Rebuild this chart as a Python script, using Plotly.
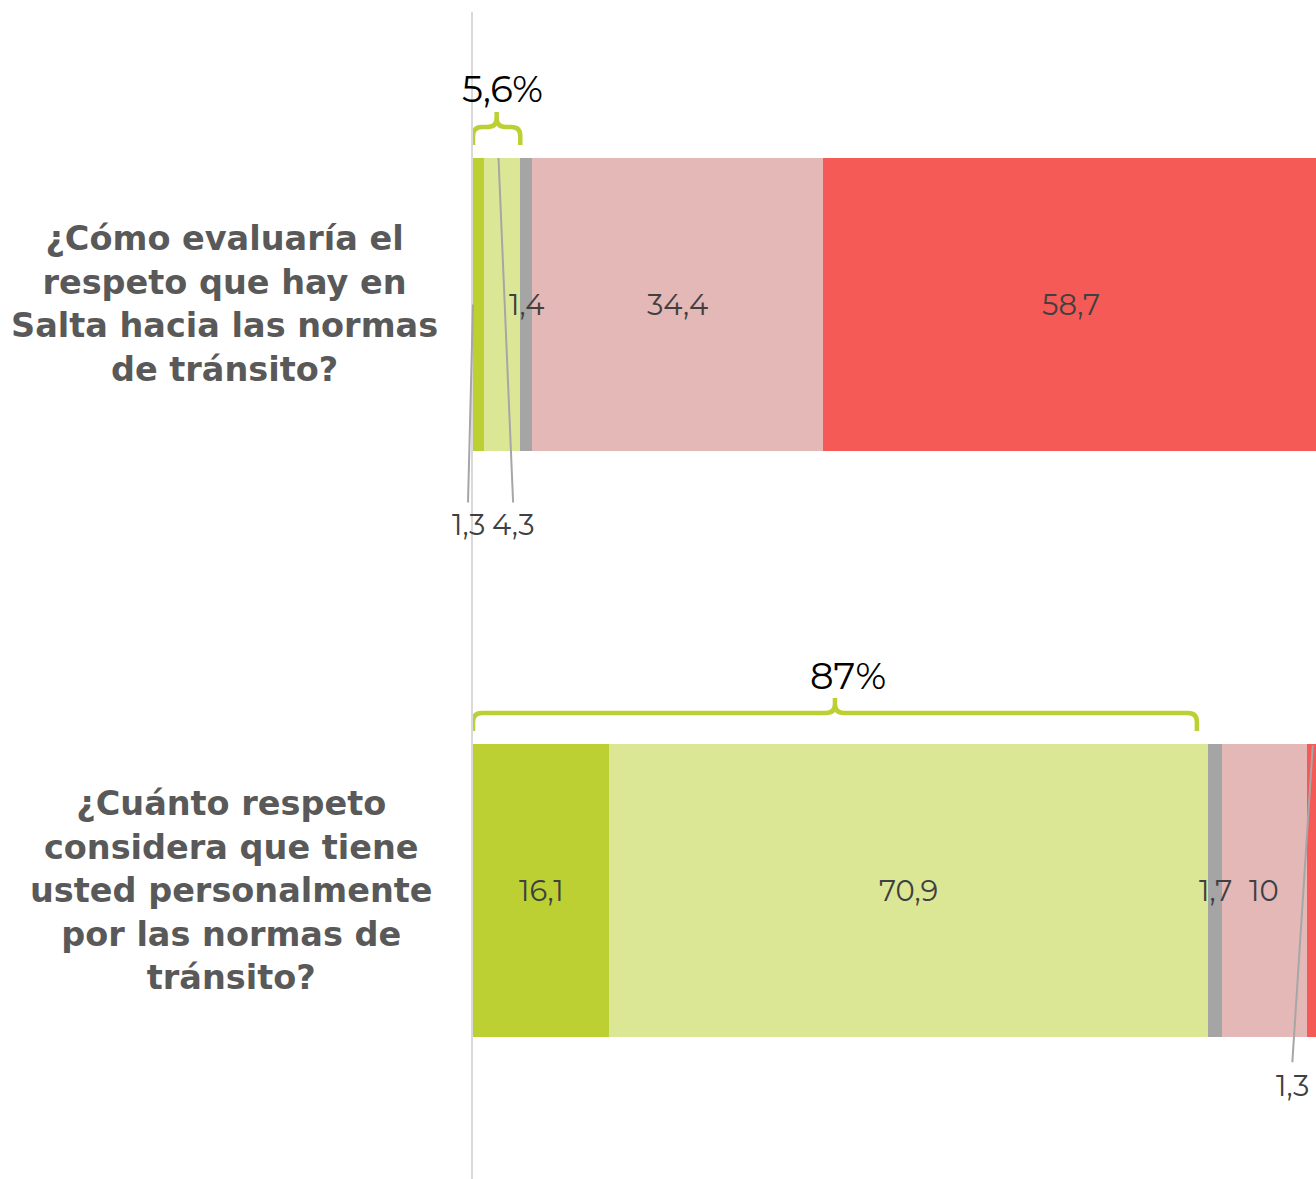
import plotly.graph_objects as go

categories = ["¿Cómo evaluaría el<br>respeto que hay en<br>Salta hacia las normas<br>de tránsito?",
              "¿Cuánto respeto<br>considera que tiene<br>usted personalmente<br>por las normas de<br>tránsito?"]
series_names = ["Mucho", "Bastante", "Ns/Nc", "Poco", "Nada"]
values = [
    [1.3, 16.1],
    [4.3, 70.9],
    [1.4, 1.7],
    [34.4, 10.0],
    [58.7, 1.3],
]
colors = ["#bdd033", "#dce796", "#a5a5a5", "#e5b8b8", "#f55a57"]
totals_label = ["5,6%", "87%"]
totals_value = [5.6, 87.0]
outside = [(0, 0), (1, 0), (4, 1)]

W, H = 1316, 1179
L, T = 473, 12
XMAX = 99.8
YR = [1.4923, -0.4991]
ypos = [0, 1]

def fmt(v):
    return f"{v:g}".replace(".", ",")

fig = go.Figure()
for i, name in enumerate(series_names):
    fig.add_trace(go.Bar(
        y=ypos, x=values[i], orientation="h", name=name,
        marker=dict(color=colors[i], line=dict(width=0)),
        width=0.5, hoverinfo="skip", showlegend=False,
    ))

annotations = []
shapes = []
lab_font = dict(family="Montserrat, Lato, DejaVu Sans", size=29, color="#404040")
px_per_y = (H - T) / (YR[0] - YR[1])
px_per_x = (W - L) / XMAX
lead = dict(color="#a6a6a6", width=2)
for c in range(2):
    cum = 0.0
    for i in range(len(series_names)):
        v = values[i][c]
        mid = cum + v / 2
        if (i, c) in outside:
            if c == 0 and i == 0:
                ly = ypos[c] + 0.375
                annotations.append(dict(x=cum, y=ly, xref="x", yref="y", text=fmt(v), xshift=-5,
                                        showarrow=False, font=lab_font, xanchor="center", yanchor="middle"))
                shapes.append(dict(type="line", xref="paper", yref="y", x0=0, y0=ypos[c],
                                   x1=-5 / (W - L), y1=ypos[c] + 0.338, line=lead))
            elif c == 0:
                ly = ypos[c] + 0.375
                lx = mid + 1.3
                annotations.append(dict(x=lx, y=ly, xref="x", yref="y", text=fmt(v),
                                        showarrow=False, font=lab_font, xanchor="center", yanchor="middle"))
                shapes.append(dict(type="line", xref="x", yref="y", x0=cum + v * 0.4, y0=ypos[c] - 0.25,
                                   x1=lx, y1=ypos[c] + 0.338, line=lead))
            else:
                ly = ypos[c] + 0.333
                lx = mid - 2.35
                annotations.append(dict(x=lx, y=ly, xref="x", yref="y", text=fmt(v),
                                        showarrow=False, font=lab_font, xanchor="center", yanchor="middle"))
                shapes.append(dict(type="line", xref="x", yref="y", x0=cum + v * 0.55, y0=ypos[c] - 0.248,
                                   x1=lx, y1=ypos[c] + 0.293, line=lead))
        else:
            annotations.append(dict(x=mid, y=ypos[c], xref="x", yref="y", text=fmt(v),
                                    showarrow=False, font=lab_font, xanchor="center", yanchor="middle"))
        cum += v

# brackets
for c in range(2):
    x0 = 0.0
    x1 = totals_value[c] - (0 if c == 0 else 1.3)
    xm = (x0 + x1) / 2
    yb = ypos[c] - 0.25 - 13 / px_per_y
    yl = ypos[c] - 0.25 - 31 / px_per_y
    yt = ypos[c] - 0.25 - 46 / px_per_y
    ry = 9 / px_per_y
    rx = 9 / px_per_x
    path = (f"M {x0},{yb} L {x0},{yl+ry} Q {x0},{yl} {x0+rx},{yl} "
            f"L {xm-rx},{yl} Q {xm},{yl} {xm},{yl-ry} L {xm},{yt} "
            f"M {xm},{yl-ry} Q {xm},{yl} {xm+rx},{yl} "
            f"L {x1-rx},{yl} Q {x1},{yl} {x1},{yl+ry} L {x1},{yb}")
    shapes.append(dict(type="path", xref="x", yref="y", path=path,
                       line=dict(color="#bdd033", width=4.5)))
    annotations.append(dict(x=xm + (0.7 if c == 0 else 1.5), y=ypos[c] - 0.25 - 69 / px_per_y,
                            xref="x", yref="y", text=totals_label[c], showarrow=False,
                            font=dict(family="Montserrat, Lato, DejaVu Sans", size=37, color="#000000"),
                            xanchor="center", yanchor="middle"))

# category labels
cat_x = [224, 232]
for c in range(2):
    annotations.append(dict(x=(cat_x[c] - L) / (W - L), y=ypos[c], xref="paper", yref="y",
                            text="<b>" + categories[c] + "</b>", showarrow=False, align="center",
                            xanchor="center", yanchor="middle",
                            font=dict(family="DejaVu Sans", size=33.5, color="#595959")))

fig.update_layout(
    width=W, height=H,
    margin=dict(l=L, r=0, t=T, b=0),
    barmode="stack", bargap=0.5,
    plot_bgcolor="white", paper_bgcolor="white",
    xaxis=dict(range=[0, XMAX], showgrid=False, zeroline=False, showticklabels=False,
               showline=False, fixedrange=True),
    yaxis=dict(range=YR, showgrid=False, zeroline=False, showticklabels=False,
               showline=True, linecolor="#d9d9d9", linewidth=2, fixedrange=True),
    annotations=annotations, shapes=shapes,
)
fig.write_html("out.html", config={"displayModeBar": False},
               default_width="1316px", default_height="1179px",
               post_script="document.body.style.margin='0';document.body.style.overflow='hidden';"
                           "document.documentElement.style.overflow='hidden';")
